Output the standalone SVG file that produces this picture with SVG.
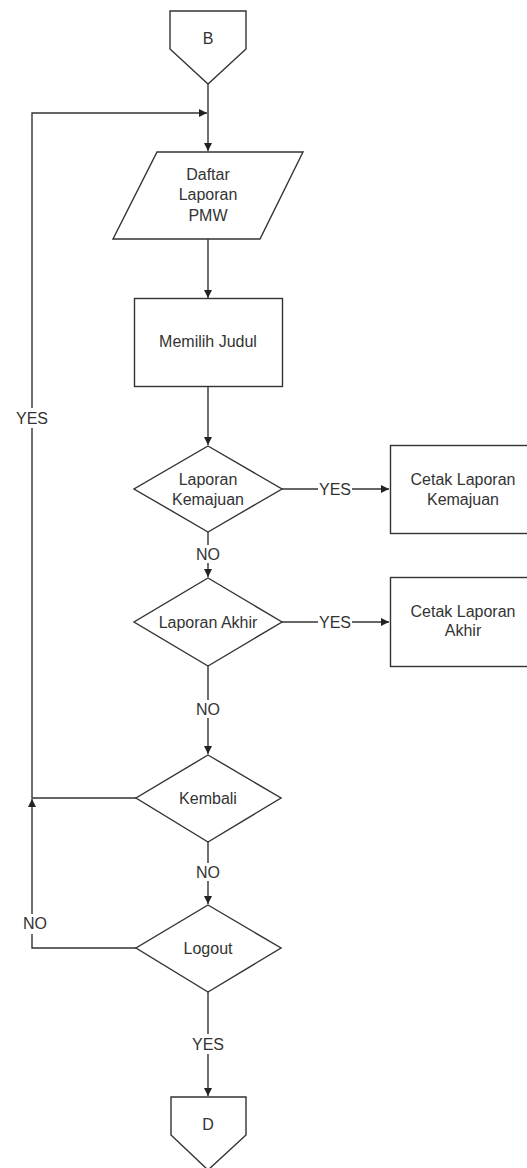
<svg xmlns="http://www.w3.org/2000/svg" width="527" height="1168" viewBox="0 0 527 1168">
<style>
.s{fill:#fff;stroke:#333;stroke-width:1.4}
.c{fill:none;stroke:#333;stroke-width:1.4}
text{font-family:"Liberation Sans",Arial,sans-serif;font-size:16px;fill:#333;text-anchor:middle}
.bg{fill:#fff}
</style>
<defs>
<marker id="a" viewBox="0 0 10 10" refX="10" refY="5" markerWidth="8" markerHeight="8" markerUnits="userSpaceOnUse" orient="auto">
<path d="M0,0 L10,5 L0,10 z" fill="#222"/>
</marker>
</defs>
<rect width="527" height="1168" fill="#fff"/>
<g id="connectors">
<path class="c" d="M208,84 V151" marker-end="url(#a)"/>
<path class="c" d="M136,798 H32 V113 H207" marker-end="url(#a)"/>
<path class="c" d="M208,239 V298" marker-end="url(#a)"/>
<path class="c" d="M208,387 V445" marker-end="url(#a)"/>
<path class="c" d="M282,489 H389" marker-end="url(#a)"/>
<path class="c" d="M208,532 V577" marker-end="url(#a)"/>
<path class="c" d="M282,622 H389" marker-end="url(#a)"/>
<path class="c" d="M208,666 V754" marker-end="url(#a)"/>
<path class="c" d="M208,842 V904" marker-end="url(#a)"/>
<path class="c" d="M136,948 H32 V799" marker-end="url(#a)"/>
<path class="c" d="M208,992 V1096" marker-end="url(#a)"/>
<rect class="bg" x="16" y="408" width="32" height="20"/>
<text x="32" y="424">YES</text>
<rect class="bg" x="318" y="480" width="34" height="18"/>
<text x="335" y="495">YES</text>
<rect class="bg" x="318" y="613" width="34" height="18"/>
<text x="335" y="628">YES</text>
<rect class="bg" x="195" y="545" width="26" height="18"/>
<text x="208" y="560">NO</text>
<rect class="bg" x="195" y="700" width="26" height="18"/>
<text x="208" y="715">NO</text>
<rect class="bg" x="195" y="863" width="26" height="18"/>
<text x="208" y="878">NO</text>
<rect class="bg" x="20" y="914" width="30" height="20"/>
<text x="35" y="929">NO</text>
<rect class="bg" x="191" y="1034" width="34" height="20"/>
<text x="208" y="1050">YES</text>
</g>
<g id="B">
<polygon class="s" points="170,11 246,11 246,49 208,84 170,49"/>
<text x="208" y="44">B</text>
</g>
<g id="daftar">
<polygon class="s" points="157,152 303,152 260,239 113,239"/>
<text x="208" y="180">Daftar</text>
<text x="208" y="200">Laporan</text>
<text x="208" y="221">PMW</text>
</g>
<g id="memilih">
<rect class="s" x="134.5" y="298.5" width="148" height="88"/>
<text x="208" y="347">Memilih Judul</text>
</g>
<g id="kemajuan">
<polygon class="s" points="208,446 282,489 208,532 134,489"/>
<text x="208" y="485">Laporan</text>
<text x="208" y="505">Kemajuan</text>
</g>
<g id="cetak-kemajuan">
<rect class="s" x="390.5" y="445.5" width="150" height="88"/>
<text x="463" y="485">Cetak Laporan</text>
<text x="463" y="505">Kemajuan</text>
</g>
<g id="akhir">
<polygon class="s" points="208,578 282,622 208,666 134,622"/>
<text x="208" y="628">Laporan Akhir</text>
</g>
<g id="cetak-akhir">
<rect class="s" x="390.5" y="577.5" width="150" height="89"/>
<text x="463" y="617">Cetak Laporan</text>
<text x="463" y="636">Akhir</text>
</g>
<g id="kembali">
<polygon class="s" points="208,755 281,798 208,842 136,798"/>
<text x="208" y="804">Kembali</text>
</g>
<g id="logout">
<polygon class="s" points="208,905 281,948 208,992 136,948"/>
<text x="208" y="954">Logout</text>
</g>
<g id="D">
<polygon class="s" points="171,1097 246,1097 246,1135 208,1170 171,1135"/>
<text x="208" y="1130">D</text>
</g>
</svg>
